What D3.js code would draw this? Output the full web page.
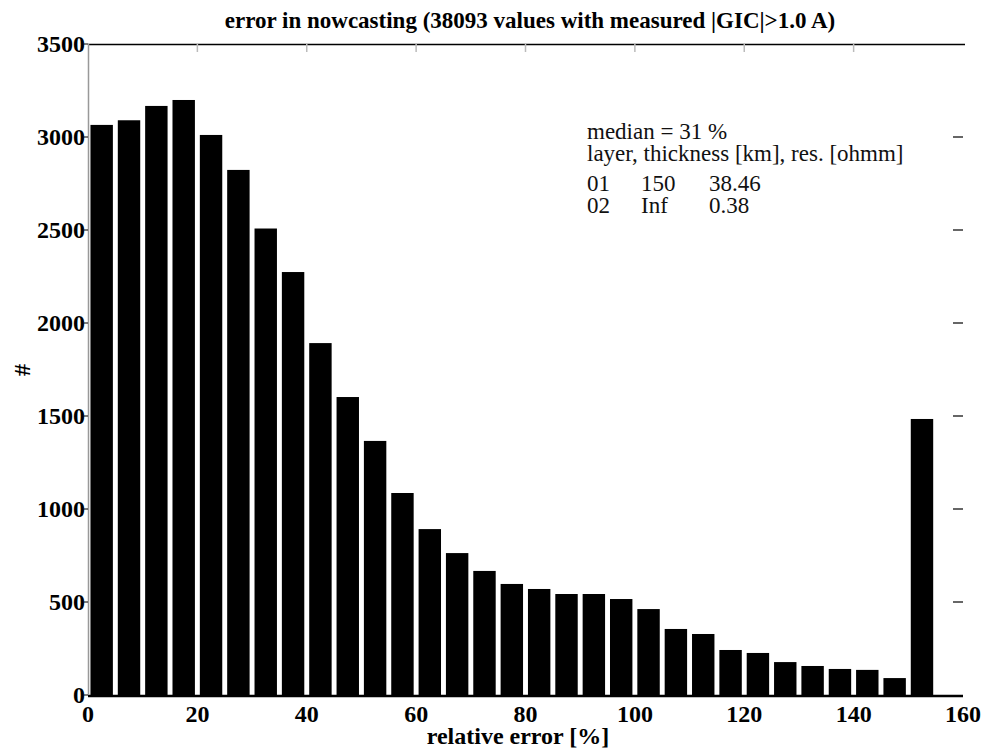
<!DOCTYPE html>
<html>

<style>
    body {
        margin: 0;
        background: #fff;
        font-family: "Liberation Serif", "Times New Roman", serif;
    }

    .tick-label {
        font-size: 24px;
        font-weight: bold;
        fill: #000;
    }

    .note {
        font-size: 23px;
        fill: #111;
    }
</style>

<body>
    <svg id='viz' width='984' height='749'></svg>

<script src="https://cdnjs.cloudflare.com/ajax/libs/d3/7.8.5/d3.min.js"></script>

<script>
    // bin centres of the histogram (5 % wide bins, last one collects everything above 150)
    var binCenters = [2.5, 7.5, 12.5, 17.5, 22.5, 27.5, 32.5, 37.5, 42.5, 47.5,
                      52.5, 57.5, 62.5, 67.5, 72.5, 77.5, 82.5, 87.5, 92.5, 97.5,
                      102.5, 107.5, 112.5, 117.5, 122.5, 127.5, 132.5, 137.5, 142.5, 147.5,
                      152.5];
    var counts = [3065, 3090, 3167, 3199, 3011, 2823, 2508, 2274, 1892, 1602,
                  1366, 1086, 892, 763, 667, 597, 570, 543, 543, 516,
                  462, 355, 328, 242, 226, 177, 156, 140, 135, 91,
                  1484];
    var xTicks = [0, 20, 40, 60, 80, 100, 120, 140, 160];
    var yTicks = [0, 500, 1000, 1500, 2000, 2500, 3000, 3500];
    var title = 'error in nowcasting (38093 values with measured |GIC|>1.0 A)';
    var noteLines = [
        ['median = 31 %'],
        ['layer, thickness [km], res. [ohmm]'],
        ['01', '150', '38.46'],
        ['02', 'Inf', '0.38']
    ];

    var plotLeft = 88, plotRight = 963, plotTop = 44, plotBottom = 695;
    var binWidth = 5;

    var svg = d3.select('#viz');

    var x = d3.scaleLinear().domain([0, 160]).range([plotLeft, plotRight]);
    var y = d3.scaleLinear().domain([0, 3500]).range([plotBottom, plotTop]);

    // bars
    svg.append('g')
        .selectAll('rect')
        .data(counts)
        .enter()
        .append('rect')
        .attr('x', function(d, i) { return x(binCenters[i] - binWidth * 0.41); })
        .attr('width', x(binWidth * 0.82) - x(0))
        .attr('y', function(d) { return y(d); })
        .attr('height', function(d) { return y(0) - y(d); })
        .attr('fill', '#000');

    // frame lines
    svg.append('line')
        .attr('x1', plotLeft).attr('x2', plotRight + 2)
        .attr('y1', plotTop + 0.5).attr('y2', plotTop + 0.5)
        .attr('stroke', '#000').attr('stroke-width', 1.5);
    svg.append('line')
        .attr('x1', plotLeft).attr('x2', plotRight)
        .attr('y1', plotBottom + 1).attr('y2', plotBottom + 1)
        .attr('stroke', '#000').attr('stroke-width', 2.5);
    svg.append('line')
        .attr('x1', plotLeft + 0.5).attr('x2', plotLeft + 0.5)
        .attr('y1', plotTop).attr('y2', plotBottom)
        .attr('stroke', '#999').attr('stroke-width', 1.5);

    // top ticks (inward)
    svg.append('g')
        .selectAll('line')
        .data(xTicks.slice(1, -1))
        .enter()
        .append('line')
        .attr('x1', function(d) { return x(d); })
        .attr('x2', function(d) { return x(d); })
        .attr('y1', plotTop).attr('y2', plotTop + 8)
        .attr('stroke', '#bbb').attr('stroke-width', 1.5);

    // right ticks (inward)
    svg.append('g')
        .selectAll('line')
        .data(yTicks.slice(1, -1))
        .enter()
        .append('line')
        .attr('x1', plotRight - 10).attr('x2', plotRight)
        .attr('y1', function(d) { return y(d); })
        .attr('y2', function(d) { return y(d); })
        .attr('stroke', '#000').attr('stroke-width', 1.2);

    // left ticks
    svg.append('g')
        .selectAll('line')
        .data(yTicks)
        .enter()
        .append('line')
        .attr('x1', plotLeft - 4).attr('x2', plotLeft)
        .attr('y1', function(d) { return y(d); })
        .attr('y2', function(d) { return y(d); })
        .attr('stroke', '#000').attr('stroke-width', 1);

    // y tick labels
    svg.append('g')
        .selectAll('text')
        .data(yTicks)
        .enter()
        .append('text')
        .attr('class', 'tick-label')
        .attr('x', plotLeft - 3)
        .attr('y', function(d) { return y(d) + 8; })
        .attr('text-anchor', 'end')
        .text(function(d) { return d; });

    // x tick labels
    svg.append('g')
        .selectAll('text')
        .data(xTicks)
        .enter()
        .append('text')
        .attr('class', 'tick-label')
        .attr('x', function(d) { return x(d); })
        .attr('y', plotBottom + 27)
        .attr('text-anchor', 'middle')
        .text(function(d) { return d; });

    // title and axis labels
    svg.append('text')
        .attr('x', 530).attr('y', 28)
        .attr('text-anchor', 'middle')
        .attr('font-size', '23px').attr('font-weight', 'bold')
        .text(title);

    svg.append('text')
        .attr('x', 518).attr('y', 744)
        .attr('text-anchor', 'middle')
        .attr('font-size', '24px').attr('font-weight', 'bold')
        .text('relative error [%]');

    svg.append('text')
        .attr('transform', 'translate(30,370) rotate(-90)')
        .attr('text-anchor', 'middle')
        .attr('font-size', '24px').attr('font-weight', 'bold')
        .text('#');

    // annotation block
    var noteX = [587, 641, 709];
    var noteY = [139, 161, 191, 213];
    noteLines.forEach(function(line, r) {
        line.forEach(function(s, c) {
            svg.append('text')
                .attr('class', 'note')
                .attr('x', noteX[c])
                .attr('y', noteY[r])
                .text(s);
        });
    });
</script>
</body>
</html>
